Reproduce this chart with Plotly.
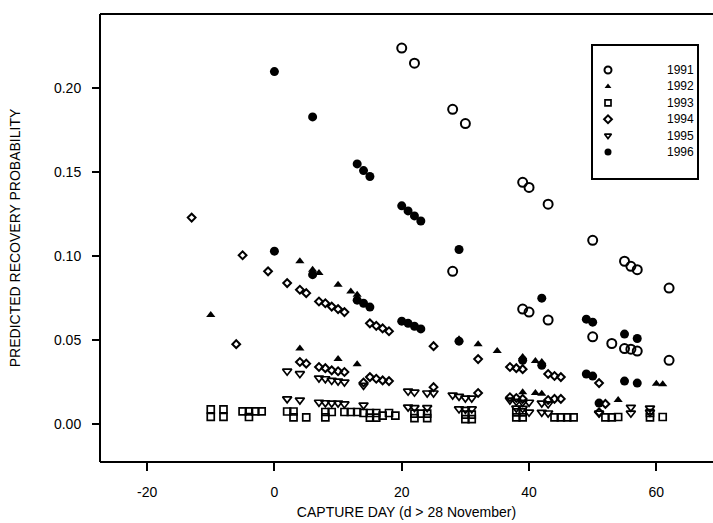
import plotly.graph_objects as go

# Predicted recovery probability by capture day, one series per year
days_1991 = [20, 22, 28, 28, 30, 39, 39, 40, 40, 43, 43, 50, 50, 53, 55, 55, 56, 56, 57, 57, 62, 62]
prob_1991 = [0.224, 0.215, 0.1875, 0.091, 0.179, 0.144, 0.0685, 0.141, 0.0667, 0.131, 0.062,
             0.1095, 0.052, 0.048, 0.097, 0.045, 0.094, 0.0446, 0.092, 0.0435, 0.081, 0.038]

days_1992 = [-10, 4, 4, 6, 7, 10, 10, 12, 13, 13, 29, 32, 35, 39, 39, 41, 41, 42, 42, 54, 60, 61]
prob_1992 = [0.065, 0.097, 0.045, 0.092, 0.090, 0.083, 0.0387, 0.079, 0.077, 0.0357, 0.0505,
             0.0476, 0.0435, 0.040, 0.019, 0.0376, 0.0185, 0.037, 0.018, 0.0143, 0.024, 0.0237]

days_1993 = [-10, -10, -8, -8, -5, -4, -4, -3, -2, 2, 3, 3, 5, 8, 8, 9, 11, 12, 13, 14,
             15, 15, 16, 16, 17, 18, 19, 22, 22, 23, 24, 24, 30, 30, 31, 31, 38, 38, 39, 39,
             44, 45, 46, 47, 52, 53, 54, 59, 59, 61]
prob_1993 = [0.0088, 0.0043, 0.0088, 0.0043, 0.0076, 0.0076, 0.0042, 0.0076, 0.0076, 0.0075,
             0.0075, 0.0040, 0.0040, 0.0072, 0.0040, 0.0072, 0.0072, 0.0072, 0.0072, 0.0066,
             0.0066, 0.0038, 0.0066, 0.0038, 0.0050, 0.0066, 0.0050, 0.0062, 0.0035, 0.0062,
             0.0062, 0.0035, 0.0056, 0.0030, 0.0056, 0.0030, 0.0070, 0.0040, 0.0070, 0.0040,
             0.0040, 0.0040, 0.0040, 0.0040, 0.0040, 0.0040, 0.0042, 0.0066, 0.0040, 0.0042]

days_1994 = [-13, -5, -1, 2, 4, 5, 7, 8, 9, 10, 11, 15, 16, 17, 18, 25, 32, 37, 38, 39, 43, 44, 45, 51,
             -6, 4, 5, 7, 8, 9, 10, 11, 14, 15, 16, 17, 18, 25, 32, 37, 38, 39, 43, 44, 45, 51, 52]
prob_1994 = [0.123, 0.1006, 0.091, 0.084, 0.080, 0.078, 0.073, 0.072, 0.070, 0.0685, 0.0667,
             0.060, 0.0585, 0.057, 0.0553, 0.0464, 0.0387, 0.034, 0.0333, 0.0327, 0.0298,
             0.0286, 0.028, 0.0244,
             0.0476, 0.037, 0.036, 0.034, 0.0333, 0.032, 0.0315, 0.031, 0.0248, 0.028, 0.027,
             0.026, 0.0256, 0.022, 0.0185, 0.016, 0.0155, 0.015, 0.0143, 0.015, 0.015, 0.007, 0.012]

days_1995 = [2, 4, 7, 8, 9, 10, 11, 14, 21, 22, 24, 25, 28, 29, 30, 31, 37, 38, 39, 40, 42, 43, 56, 59,
             2, 4, 7, 8, 9, 10, 11, 14, 21, 22, 24, 29, 30, 31, 38, 39, 40, 42, 43, 51, 56, 59]
prob_1995 = [0.0315, 0.030, 0.0274, 0.027, 0.026, 0.0256, 0.025, 0.023, 0.0196, 0.019, 0.0185,
             0.0185, 0.0173, 0.0165, 0.0155, 0.0155, 0.0143, 0.0135, 0.013, 0.013, 0.0125,
             0.012, 0.010, 0.0095,
             0.015, 0.0143, 0.013, 0.0127, 0.0125, 0.0125, 0.012, 0.0113, 0.0101, 0.0098,
             0.0098, 0.009, 0.0088, 0.009, 0.0095, 0.0093, 0.0071, 0.007, 0.0066, 0.0065,
             0.0065, 0.007]

days_1996 = [0, 0, 6, 6, 13, 13, 14, 14, 15, 15, 20, 20, 21, 21, 22, 22, 23, 23, 29, 29,
             39, 42, 42, 49, 49, 50, 50, 51, 55, 55, 57, 57]
prob_1996 = [0.210, 0.103, 0.183, 0.089, 0.155, 0.0738, 0.151, 0.072, 0.1475, 0.0697, 0.130,
             0.0613, 0.127, 0.060, 0.124, 0.0583, 0.121, 0.0567, 0.104, 0.0494, 0.038, 0.075,
             0.035, 0.0625, 0.0298, 0.0607, 0.0286, 0.0125, 0.0536, 0.0256, 0.051, 0.0244]

years = ["1991", "1992", "1993", "1994", "1995", "1996"]
series = [(days_1991, prob_1991), (days_1992, prob_1992), (days_1993, prob_1993),
          (days_1994, prob_1994), (days_1995, prob_1995), (days_1996, prob_1996)]

x_ticks = [-20, 0, 20, 40, 60]
y_ticks = [0.00, 0.05, 0.10, 0.15, 0.20]

# marker style per year: symbol, size, line width
styles = [
    dict(symbol="circle-open", size=9, line=dict(width=2, color="black")),
    dict(symbol="triangle-up", size=8, line=dict(width=0)),
    dict(symbol="square-open", size=7, line=dict(width=1.7, color="black")),
    dict(symbol="diamond-open", size=6, line=dict(width=2, color="black")),
    dict(symbol="triangle-down-open", size=8, line=dict(width=1.7, color="black")),
    dict(symbol="circle", size=9, line=dict(width=0)),
]
legend_sizes = [7, 6, 6, 6, 6, 7]

FONT = "Liberation Sans, Arial, Helvetica, sans-serif"
W, H = 713, 523
L, R, T, B = 100, 0, 14, 61

fig = go.Figure()
for year, (d, p), st in zip(years, series, styles):
    fig.add_trace(go.Scatter(
        x=d, y=p, mode="markers", name=year, showlegend=False,
        marker=dict(color="black", **st),
    ))

# legend box drawn on an overlay in plot-fraction units
plot_w, plot_h = W - L - R, H - T - B
def fx(px):
    return (px - L) / plot_w
def fy(py):
    return (H - B - py) / plot_h

row0, row_step = 70, 16.4
for i, (year, st) in enumerate(zip(years, styles)):
    st_leg = dict(st)
    st_leg["size"] = legend_sizes[i]
    fig.add_trace(go.Scatter(
        x=[fx(608)], y=[fy(row0 + i * row_step)], xaxis="x2", yaxis="y2",
        mode="markers", showlegend=False, hoverinfo="skip",
        marker=dict(color="black", **st_leg),
    ))
    fig.add_annotation(
        x=fx(665), y=fy(row0 + i * row_step), xref="x2", yref="y2",
        text=year, showarrow=False, xanchor="left", yanchor="middle",
        font=dict(family=FONT, size=12, color="black"),
    )

fig.add_shape(type="rect", xref="paper", yref="paper",
              x0=fx(592), x1=fx(698), y0=fy(179), y1=fy(45),
              line=dict(color="black", width=2), fillcolor="rgba(0,0,0,0)")

# open frame: left, bottom and top edges only
frame = dict(color="black", width=2)
fig.add_shape(type="line", xref="paper", yref="paper", x0=0, x1=0, y0=0, y1=1, line=frame)
fig.add_shape(type="line", xref="paper", yref="paper", x0=0, x1=1, y0=0, y1=0, line=frame)
fig.add_shape(type="line", xref="paper", yref="paper", x0=0, x1=1, y0=1, y1=1, line=frame)

fig.update_layout(
    width=W, height=H,
    margin=dict(l=L, r=R, t=T, b=B),
    paper_bgcolor="white", plot_bgcolor="white",
    font=dict(family=FONT, color="black"),
    xaxis=dict(
        range=[-27.4, 68.9], tickvals=x_ticks, ticktext=[str(v) for v in x_ticks],
        ticks="outside", ticklen=8, tickwidth=1.5, tickcolor="black",
        showline=False, showgrid=False, zeroline=False,
        tickfont=dict(size=14), ticklabelstandoff=9,
        title=dict(text="CAPTURE DAY (d > 28 November)", font=dict(size=14), standoff=8),
    ),
    yaxis=dict(
        range=[-0.0226, 0.2443], tickvals=y_ticks, ticktext=[f"{v:.2f}" for v in y_ticks],
        ticks="outside", ticklen=7, tickwidth=1.5, tickcolor="black",
        showline=False, showgrid=False, zeroline=False,
        tickfont=dict(size=14), ticklabelstandoff=8,
        title=dict(text="PREDICTED RECOVERY PROBABILITY", font=dict(size=14), standoff=30),
    ),
    xaxis2=dict(overlaying="x", range=[0, 1], visible=False, fixedrange=True),
    yaxis2=dict(overlaying="y", range=[0, 1], visible=False, fixedrange=True),
)

fig.write_html("out.html")
